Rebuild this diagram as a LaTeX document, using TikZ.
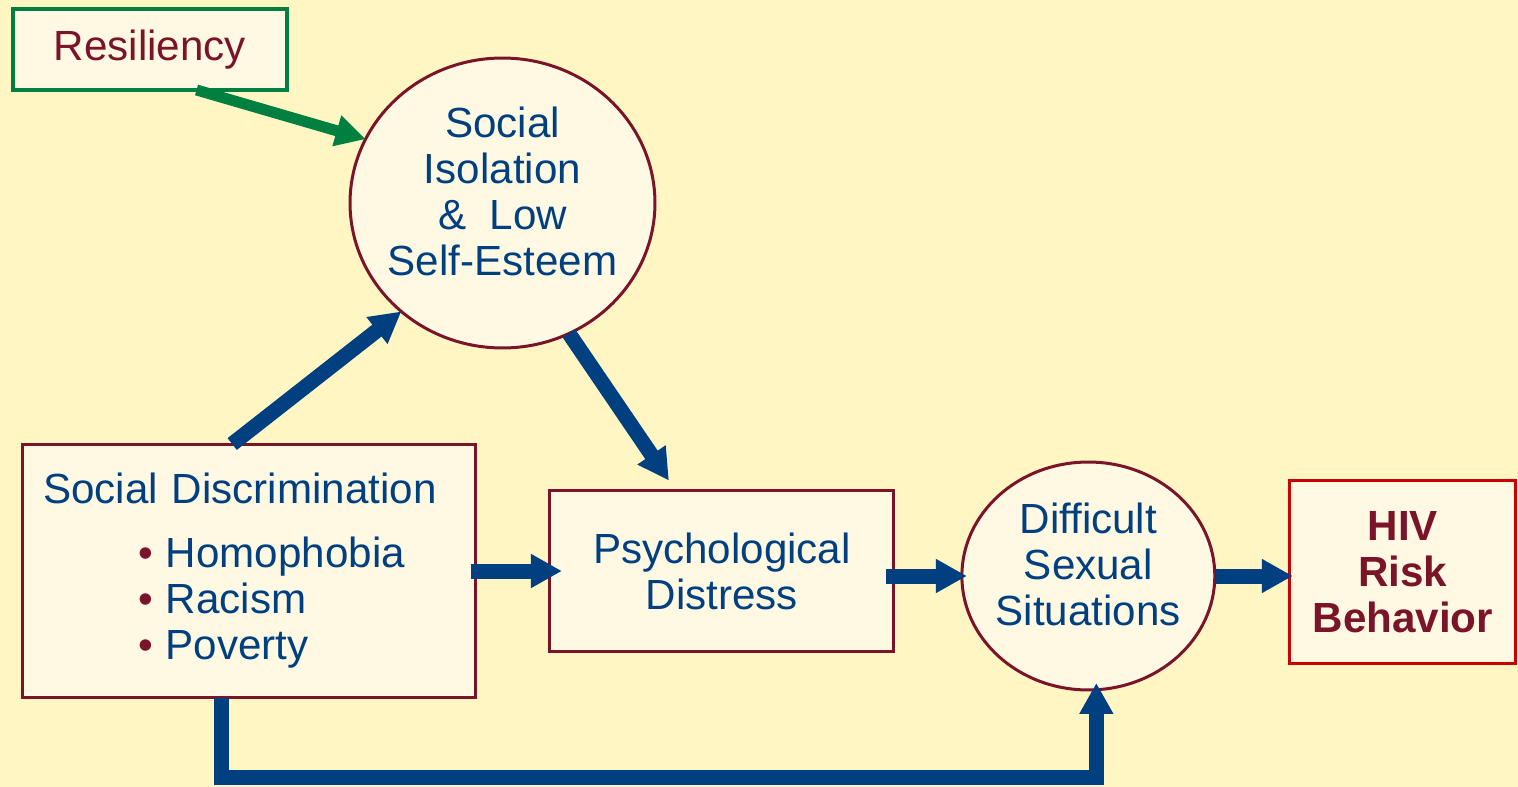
\documentclass[tikz,border=0pt]{standalone}
\usepackage{fontspec}
\setmainfont{Liberation Sans}
\usetikzlibrary{arrows.meta,positioning,shapes,calc}
\definecolor{paper}{RGB}{255,246,196}
\definecolor{cream}{RGB}{255,248,226}
\definecolor{navy}{RGB}{0,64,128}
\definecolor{wine}{RGB}{122,20,40}
\definecolor{leaf}{RGB}{0,128,64}
\definecolor{alarm}{RGB}{204,0,0}
\newcommand{\itm}[1]{\hspace*{1.9cm}{\color{wine}\textbullet}\hspace{0.26cm}#1}
\newcommand{\lift}{\rule[-0.48cm]{0pt}{0pt}}

\begin{document}
\begin{tikzpicture}[
  x=0.02cm, y=-0.02cm,
  every node/.style={font=\fontsize{24pt}{26.2pt}\selectfont, text=navy},
  box/.style={draw=wine, fill=cream, line width=0.06cm, inner sep=0pt, outer sep=0pt, align=center},
  bubble/.style={ellipse, draw=wine, fill=cream, line width=0.06cm, inner xsep=-0.4cm, inner ysep=0pt, outer sep=0pt, align=center},
  flow/.style={draw=navy, line width=0.3cm, -{Triangle[length=0.62cm,width=0.64cm]}},
  boost/.style={draw=leaf, line width=0.22cm, -{Triangle[length=0.6cm,width=0.6cm]}}
]
\fill[paper] (0,0) rectangle (1518,787);

\node[box, draw=leaf, line width=0.07cm, minimum width=5.48cm, minimum height=1.62cm, text=wine] (Res) at (150,49.5) {Resiliency};
\node[bubble, minimum width=6.1cm, minimum height=5.8cm] (Iso) at (502.5,203) {Social\\Isolation\\\& \ Low\\Self-Esteem\lift};
\node[box, minimum width=9.08cm, minimum height=5.08cm, text width=8.24cm, inner xsep=0.42cm, align=left] (Disc) at (249,571) {Social Discrimination\\[0.36cm]\itm{Homophobia}\\\itm{Racism}\\\itm{Poverty}};
\node[box, minimum width=6.88cm, minimum height=3.22cm, right=1.48cm of Disc] (Psych) {Psychological\\Distress};
\node[bubble, minimum width=5.06cm, minimum height=4.56cm, right=1.36cm of Psych, yshift=-0.1cm] (Diff) {Difficult\\Sexual\\Situations\lift};
\node[box, draw=alarm, minimum width=4.52cm, minimum height=3.68cm, text=wine, font=\fontsize{24pt}{26.2pt}\selectfont\bfseries, right=1.5cm of Diff, yshift=0.08cm] (HIV) {HIV\\Risk\\Behavior};

\draw[boost] ($(Res.south west)!0.67!(Res.south east)$) -- (Iso.155);
\draw[flow] ($(Disc.north west)!0.463!(Disc.north east)$) -- (Iso.227);
\draw[flow] (Iso.297) -- ($(Psych.north)+(-53,-10)$);
\draw[flow] ([xshift=-0.1cm]Disc.east) -- ([xshift=0.24cm]Psych.west);
\draw[flow] ($(Psych.east |- Diff.west)+(-8,0)$) -- ([xshift=0.1cm]Diff.west);
\draw[flow] (Diff.east) -- ([xshift=0.06cm]Diff.east -| HIV.west);
\draw[flow] ($(Disc.south west)!0.44!(Disc.south east)$) -- ++(0,80) -| ($(Diff.south)+(8,-7)$);

\end{tikzpicture}
\end{document}
